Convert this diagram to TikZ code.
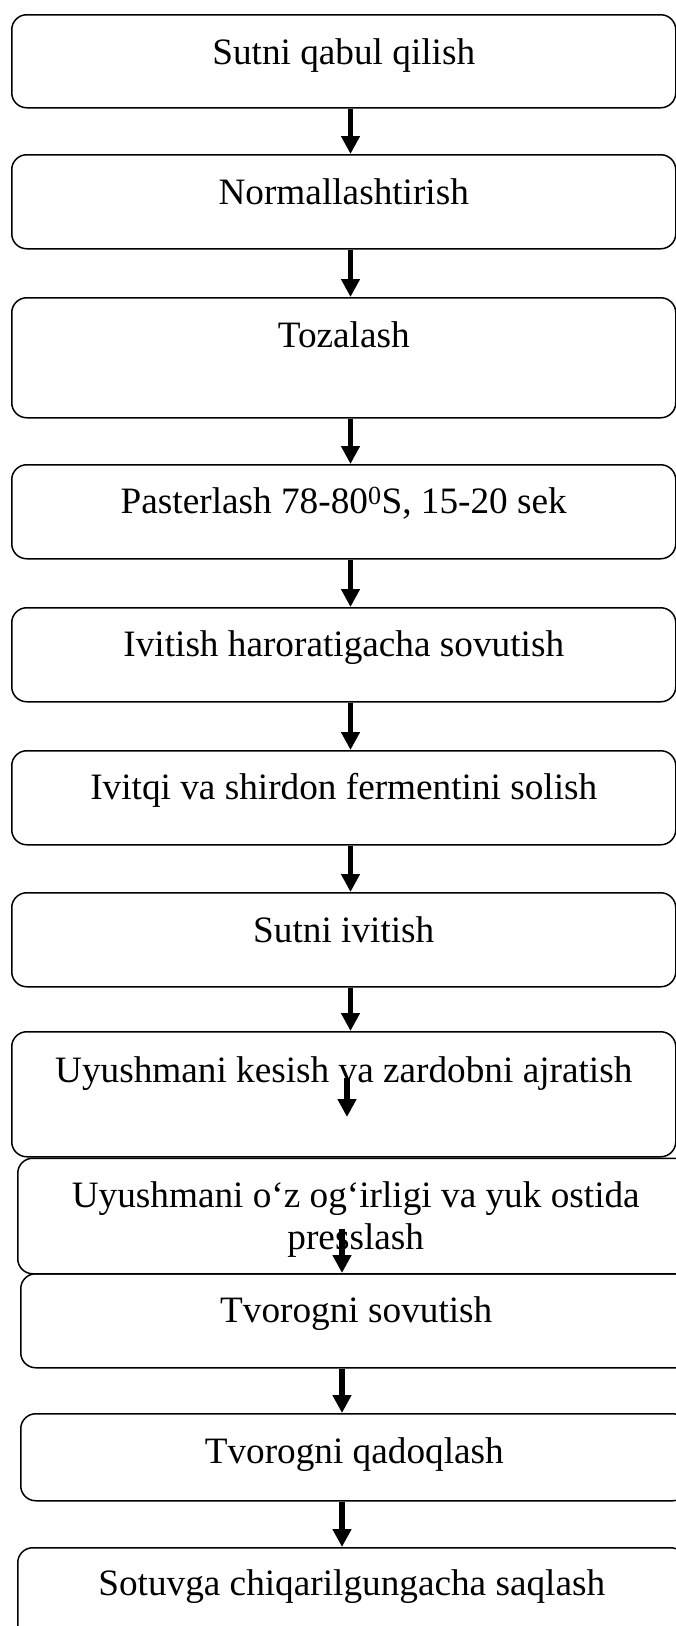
\documentclass[tikz,border=0pt]{standalone}
\usepackage{fontspec}
\setmainfont{Liberation Serif}
\usetikzlibrary{arrows.meta}
\tikzset{
  box/.style={draw, line width=1.5pt, rounded corners=15pt, inner sep=0pt, anchor=north west},
  flow/.style={line width=5.5pt, -{Triangle[length=18pt,width=18pt]}}
}
\begin{document}
\begin{tikzpicture}[x=1pt, y=-1pt, font=\fontsize{37.25}{42}\selectfont]
\path[fill=white, use as bounding box] (0,0) rectangle (676,1626);

\node[box, minimum width=664pt, text height=50pt, text depth=43pt] (b1) at (11,14) {Sutni qabul qilish};
\node[box, minimum width=664pt, text height=50pt, text depth=44pt] (b2) at (11,154) {Normallashtirish};
\node[box, minimum width=664pt, text height=50pt, text depth=70pt] (b3) at (11,297) {Tozalash};
\node[box, minimum width=664pt, text height=49pt, text depth=45pt] (b4) at (11,464) {Pasterlash 78-80\textsuperscript{0}S, 15-20 sek};
\node[box, minimum width=664pt, text height=49pt, text depth=45pt] (b5) at (11,607) {Ivitish haroratigacha sovutish};
\node[box, minimum width=664pt, text height=49pt, text depth=45pt] (b6) at (11,750) {Ivitqi va shirdon fermentini solish};
\node[box, minimum width=664pt, text height=50pt, text depth=44pt] (b7) at (11,892) {Sutni ivitish};
\node[box, minimum width=664pt, text height=51pt, text depth=74pt] (b8) at (11,1031) {Uyushmani kesish va zardobni ajratish};
\node[box, minimum width=676pt, text height=49.5pt, text depth=66pt] (b9) at (17,1157.5)
  {\begin{tabular}[t]{@{}c@{}}Uyushmani o‘z og‘irligi va yuk ostida\\presslash\end{tabular}};
\node[box, minimum width=671pt, text height=49pt, text depth=45pt] (b10) at (20,1273) {Tvorogni sovutish};
\node[box, minimum width=667pt, text height=50pt, text depth=37pt] (b11) at (20,1413) {Tvorogni qadoqlash};
\node[box, minimum width=668pt, text height=48pt, text depth=46pt] (b12) at (17,1547) {Sotuvga chiqarilgungacha saqlash};

\coordinate (xA) at (350.5,0);
\coordinate (xB) at (342,0);
\coordinate (p8a) at (347,1078);
\coordinate (p8b) at (347,1117);
\coordinate (p9a) at (342,1229);

\draw[flow] (b1.south -| xA) -- (b2.north -| xA);
\draw[flow] (b2.south -| xA) -- (b3.north -| xA);
\draw[flow] (b3.south -| xA) -- (b4.north -| xA);
\draw[flow] (b4.south -| xA) -- (b5.north -| xA);
\draw[flow] (b5.south -| xA) -- (b6.north -| xA);
\draw[flow] (b6.south -| xA) -- (b7.north -| xA);
\draw[flow] (b7.south -| xA) -- (b8.north -| xA);
\draw[flow] (p8a) -- (p8b);
\draw[flow] (p9a) -- (b10.north -| xB);
\draw[flow] (b10.south -| xB) -- (b11.north -| xB);
\draw[flow] (b11.south -| xB) -- (b12.north -| xB);
\end{tikzpicture}
\end{document}
